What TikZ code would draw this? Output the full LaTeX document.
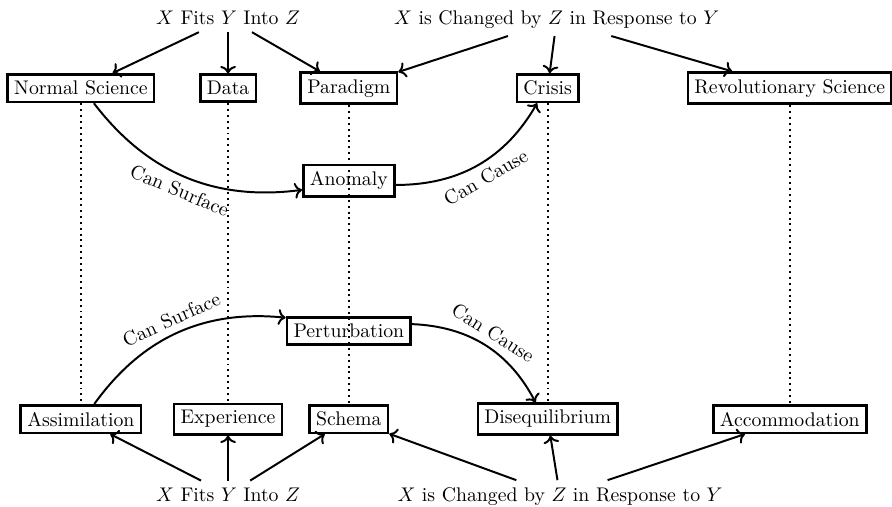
\documentclass[tikz,border=0pt]{standalone}
\usetikzlibrary{arrows.meta}

\begin{document}
\begin{tikzpicture}[
  every node/.style={align=center},
  concept/.style={draw, line width=1.3pt, rectangle},
  phrase/.style={anchor=base},
  arr/.style={-{To}, line width=1pt},
  link/.style={line width=1pt, dotted}
]
\useasboundingbox (0,0) rectangle (15.88,-9.01);

% Top phrases
\node[phrase] (FitsT) at (4.06,-0.445) {$X$ Fits $Y$ Into $Z$};
\node[phrase] (ChangedT) at (9.91,-0.445) {$X$ is Changed by $Z$ in Response to $Y$};

% Kuhn row
\node[concept] (NS) at (1.44,-1.57) {Normal Science};
\node[concept] (Data) at (4.06,-1.57) {Data};
\node[concept] (Para) at (6.21,-1.57) {Paradigm};
\node[concept] (Crisis) at (9.75,-1.57) {Crisis};
\node[concept] (RevSci) at (14.06,-1.57) {Revolutionary Science};

% Middle nodes
\node[concept] (Anomaly) at (6.21,-3.22) {Anomaly};
\node[concept] (Perturb) at (6.21,-5.89) {Perturbation};

% Piaget row
\node[concept] (Assim) at (1.44,-7.46) {Assimilation};
\node[concept] (Exper) at (4.06,-7.46) {Experience};
\node[concept] (Schema) at (6.21,-7.46) {Schema};
\node[concept] (Diseq) at (9.75,-7.46) {Disequilibrium};
\node[concept] (Accom) at (14.06,-7.46) {Accommodation};

% Bottom phrases
\node[phrase] (FitsB) at (4.06,-8.92) {$X$ Fits $Y$ Into $Z$};
\node[phrase] (ChangedB) at (9.97,-8.92) {$X$ is Changed by $Z$ in Response to $Y$};

% Edges: top phrases
\draw[arr] (FitsT) -- (NS);
\draw[arr] (FitsT) -- (Data);
\draw[arr] (FitsT) -- (Para);
\draw[arr] (ChangedT) -- (Para);
\draw[arr] (ChangedT) -- (Crisis);
\draw[arr] (ChangedT) -- (RevSci);

% Edges: bottom phrases
\draw[arr] (FitsB) -- (Assim);
\draw[arr] (FitsB) -- (Exper);
\draw[arr] (FitsB) -- (Schema);
\draw[arr] (ChangedB) -- (Schema);
\draw[arr] (ChangedB) -- (Diseq);
\draw[arr] (ChangedB) -- (Accom);

% Correspondences
\draw[link] (NS) -- (Assim);
\draw[link] (Data) -- (Exper);
\draw[link] (Para) -- (Schema);
\draw[link] (Crisis) -- (Diseq);
\draw[link] (RevSci) -- (Accom);

% Curved edges
\draw[arr] (NS) to[bend right] node[below, sloped] {Can Surface} (Anomaly);
\draw[arr] (Anomaly) to[bend right] node[below, sloped] {Can Cause} (Crisis);
\draw[arr] (Assim) to[bend left] node[above, sloped] {Can Surface} (Perturb);
\draw[arr] (Perturb) to[bend left] node[above, sloped] {Can Cause} (Diseq);

\end{tikzpicture}
\end{document}
